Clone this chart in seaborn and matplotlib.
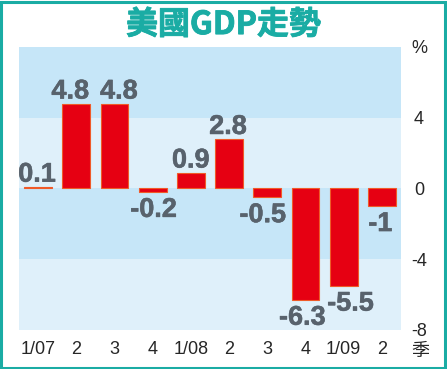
import matplotlib
matplotlib.use("Agg")
import matplotlib.pyplot as plt
import matplotlib.patheffects as pe
import seaborn as sns
import numpy as np
from matplotlib.patches import Rectangle

# 資料
periods = ['2007Q1', '2007Q2', '2007Q3', '2007Q4', '2008Q1',
           '2008Q2', '2008Q3', '2008Q4', '2009Q1', '2009Q2']
tick_labels = ['1/07', '2', '3', '4', '1/08', '2', '3', '4', '1/09', '2']
gdp = [0.1, 4.8, 4.8, -0.2, 0.9, 2.8, -0.5, -6.3, -5.5, -1.0]
value_labels = ['0.1', '4.8', '4.8', '-0.2', '0.9', '2.8', '-0.5', '-6.3', '-5.5', '-1']
y_ticks = [8, 4, 0, -4, -8]
y_tick_labels = ['%', '4', '0', '-4', '-8']

# 標籤的水平微調 (points)，原圖的數字並非全部置中
label_dx = [-0.7, -4.3, 3.2, 0.7, 0, -0.7, -3.2, -2.2, 5, -1.1]

sns.set_style("white")
plt.rcParams['font.family'] = ['Liberation Sans', 'Noto Sans CJK TC', 'DejaVu Sans']

fig = plt.figure(figsize=(4.47, 3.69), dpi=100)
ax = fig.add_axes([0.0425, 0.1057, 0.8545, 0.767])

# 背景色帶
bands = [(4, 8, '#c6e6f8'), (0, 4, '#dff0fa'), (-4, 0, '#c6e6f8'), (-8, -4, '#dff0fa')]
for lo, hi, c in bands:
    ax.axhspan(lo, hi, color=c, zorder=0, lw=0)

sns.barplot(x=periods, y=gdp, color='#e60012', width=0.73, saturation=1,
            edgecolor='#f05a28', linewidth=0.8, ax=ax, zorder=2)

label_color = '#58626c'
heavy = [pe.withStroke(linewidth=0.4, foreground=label_color)]
for i, (v, s, dx) in enumerate(zip(gdp, value_labels, label_dx)):
    if v >= 0:
        ax.annotate(s, (i, v), xytext=(dx, 3.6), textcoords='offset points',
                    ha='center', va='baseline', fontsize=19.5, fontweight='bold',
                    color=label_color, path_effects=heavy, zorder=3)
    else:
        ax.annotate(s, (i, v), xytext=(dx, -3.5), textcoords='offset points',
                    ha='center', va='top', fontsize=19.5, fontweight='bold',
                    color=label_color, path_effects=heavy, zorder=3)

ax.set_ylim(-8, 8)
ax.set_xlim(-0.5, len(periods) - 0.5)
ax.yaxis.tick_right()
ax.set_yticks(y_ticks)
ax.set_yticklabels(y_tick_labels, fontsize=13)
ax.set_xticks(range(len(periods)))
ax.set_xticklabels(tick_labels, fontsize=13)
ax.set_xticks(np.arange(0.5, len(periods) - 0.5, 1), minor=True)
ax.tick_params(axis='x', which='major', length=0, pad=8)
ax.tick_params(axis='x', which='minor', direction='in', length=4, width=1.2, color='white')
ax.tick_params(axis='y', length=0)
for lab in ax.get_yticklabels():
    lab.set_horizontalalignment('center')
ax.yaxis.set_tick_params(pad=13)
for sp in ax.spines.values():
    sp.set_visible(False)
ax.set_xlabel('')
ax.set_ylabel('')

teal = '#1aaca4'
fig.text(0.5, 0.932, '美國GDP走勢', ha='center', va='center', fontsize=23,
         fontweight='bold', color=teal, family=['Noto Sans CJK TC', 'DejaVu Sans'],
         path_effects=[pe.withStroke(linewidth=0.6, foreground=teal)])
fig.text(0.94, 0.048, '季', ha='center', va='center', fontsize=13,
         family=['Noto Sans CJK TC', 'DejaVu Sans'])

fig.patches.append(Rectangle((0.003, 0.004), 0.992, 0.99, transform=fig.transFigure,
                             fill=False, edgecolor=teal, linewidth=2.2))

fig.savefig('out.png', dpi=100)
